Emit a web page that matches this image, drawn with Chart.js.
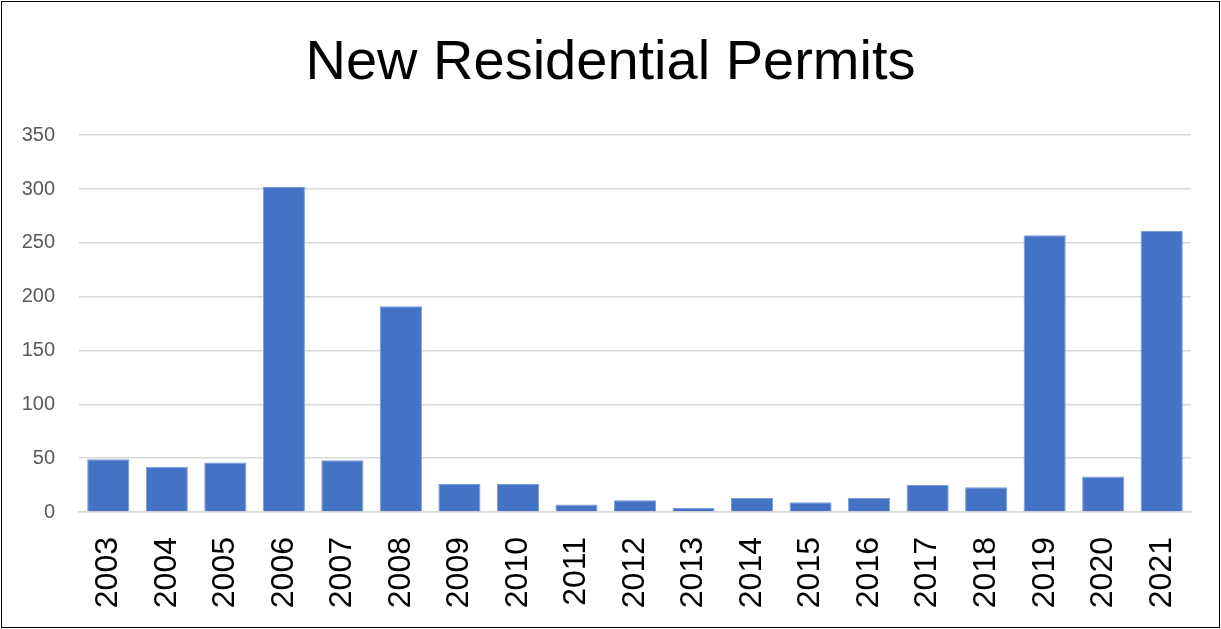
<!DOCTYPE html>
<html>
<head>
<meta charset="utf-8">
<script src="https://cdn.jsdelivr.net/npm/chart.js@4"></script>
<style>
  html, body { margin: 0; padding: 0; background: #ffffff; }
  #box { position: absolute; left: 0; top: 0; width: 1221px; height: 629px; }
  #frame { position: absolute; left: 1px; top: 1px; width: 1219px; height: 627px;
           border: 1.5px solid #000; box-sizing: border-box; pointer-events: none; }
</style>
</head>
<body>
<div id="box"><canvas id="permitsChart" width="1221" height="629"></canvas></div>
<div id="frame"></div>
<script>
// 年ごとの新規住宅許可件数
const years = ["2003", "2004", "2005", "2006", "2007", "2008", "2009", "2010", "2011", "2012",
               "2013", "2014", "2015", "2016", "2017", "2018", "2019", "2020", "2021"];
const permits = [49, 42, 46, 302, 48, 191, 26, 26, 7, 11, 4, 13, 9, 13, 25, 23, 257, 33, 261];
const yTicks = [0, 50, 100, 150, 200, 250, 300, 350];

const chartTitle = "New Residential Permits";
const fontName = "'Liberation Sans', Arial, sans-serif";

const canvas = document.getElementById("permitsChart");

new Chart(canvas, {
    type: "bar",
    data: {
        labels: years,
        datasets: [{
            data: permits,
            backgroundColor: "#4472c4",
            borderColor: "#7a9bd6",
            borderWidth: 1,
            barPercentage: 0.72,
            categoryPercentage: 1.0
        }]
    },
    options: {
        responsive: false,
        animation: false,
        layout: {
            // タイトルは全幅で中央に、右余白はx軸側で確保
            padding: { top: 30, right: 0, bottom: 0, left: 0 }
        },
        plugins: {
            legend: { display: false },
            tooltip: { enabled: false },
            title: {
                display: true,
                text: chartTitle,
                color: "#000000",
                font: { family: fontName, size: 56, weight: "normal" },
                padding: { top: 0, bottom: 38 }
            }
        },
        scales: {
            y: {
                min: 0,
                max: 350,
                afterBuildTicks: axis => {
                    axis.ticks = yTicks.map(v => ({ value: v }));
                },
                afterFit: axis => { axis.width = 79; },
                border: { display: false },
                grid: { color: "#d9d9d9", lineWidth: 1.5, drawTicks: false },
                ticks: {
                    color: "#595959",
                    padding: 24,
                    font: { family: fontName, size: 20 }
                }
            },
            x: {
                afterFit: axis => {
                    axis.height = 117;
                    axis.paddingLeft = 0;
                    axis.paddingRight = 30;
                },
                border: { color: "#d9d9d9", width: 1.5 },
                grid: { display: false, drawTicks: false },
                ticks: {
                    color: "#000000",
                    minRotation: 90,
                    maxRotation: 90,
                    autoSkip: false,
                    padding: 25,
                    font: { family: fontName, size: 32 }
                }
            }
        }
    }
});
</script>
</body>
</html>
